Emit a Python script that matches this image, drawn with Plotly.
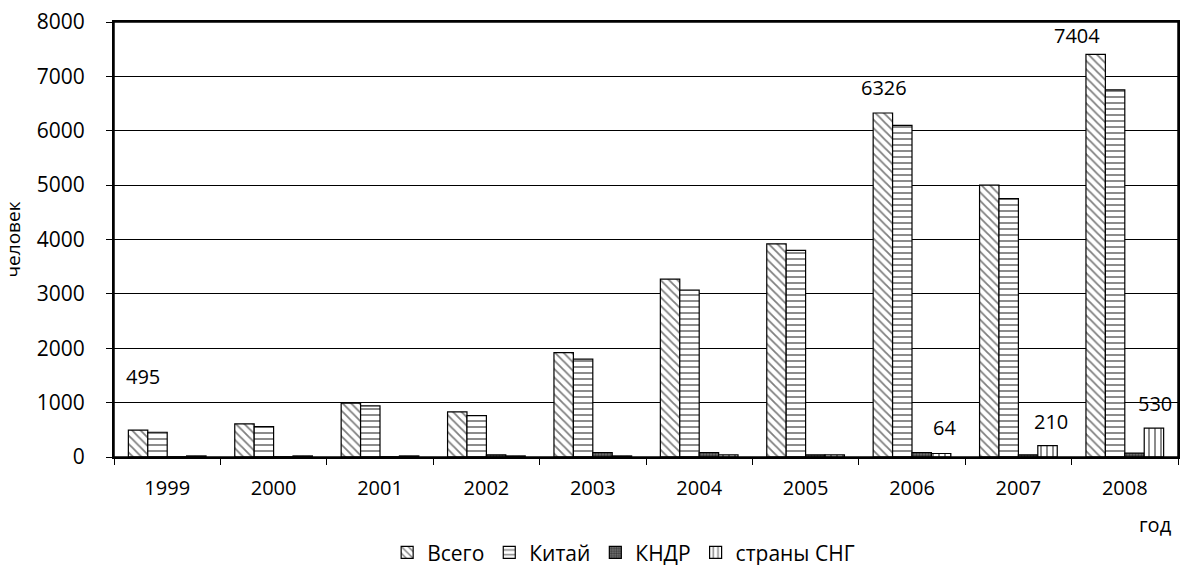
import plotly.graph_objects as go

years = ["1999", "2000", "2001", "2002", "2003", "2004", "2005", "2006", "2007", "2008"]
vsego = [495, 610, 990, 830, 1920, 3270, 3920, 6326, 5000, 7404]
kitai = [455, 560, 940, 760, 1800, 3070, 3800, 6100, 4750, 6750]
kndr = [5, 5, 5, 40, 80, 80, 40, 80, 40, 70]
sng = [20, 20, 20, 20, 20, 40, 40, 64, 210, 530]

series_names = ["Всего", "Китай", "КНДР", "страны СНГ"]

FONT = "Open Sans"

fig = go.Figure()
styles = [
    dict(shape="\\", fgcolor="black", bgcolor="white", size=6, solidity=0.3),
    dict(shape="-", fgcolor="black", bgcolor="white", size=6, solidity=0.3),
    dict(shape=".", fgcolor="black", bgcolor="#777777", size=3, solidity=0.5),
    dict(shape="|", fgcolor="black", bgcolor="white", size=6, solidity=0.3),
]
for name, vals, st in zip(series_names, [vsego, kitai, kndr, sng], styles):
    fig.add_trace(go.Bar(
        x=years, y=vals, name=name,
        marker=dict(color="white", line=dict(color="black", width=1.2), pattern=st),
    ))

# data labels (positions follow the bars via category index + pixel offset)
labels = [
    ("1999", vsego, -24, 54),
    ("2006", vsego, -28, 26),
    ("2008", vsego, -48, 19),
    ("2006", sng, 32, 26),
    ("2007", sng, 33, 24),
    ("2008", sng, 30, 25),
]
for yr, arr, xs, ys in labels:
    i = years.index(yr)
    fig.add_annotation(x=i, y=arr[i], text=str(arr[i]), showarrow=False, xshift=xs, yshift=ys,
                       xref="x", yref="y",
                       font=dict(family=FONT, size=20, color="black"))

fig.add_annotation(x=1.0, y=-0.156, xref="paper", yref="paper", text="год", showarrow=False,
                   xanchor="right", yanchor="middle", xshift=-4,
                   font=dict(family=FONT, size=20, color="black"))

# plot-area frame
fig.add_shape(type="rect", xref="paper", yref="paper", x0=0, x1=1, y0=0, y1=1,
              line=dict(color="black", width=1.5), fillcolor="rgba(0,0,0,0)", layer="above")

fig.update_layout(
    width=1182, height=565,
    margin=dict(l=114, r=4, t=22, b=108, autoexpand=False),
    paper_bgcolor="white", plot_bgcolor="white",
    barmode="group", bargap=0.27, bargroupgap=0,
    font=dict(family=FONT, size=20, color="black"),
    showlegend=True,
    legend=dict(orientation="h", x=0.479, xanchor="center", y=-0.22, yanchor="middle",
                font=dict(family=FONT, size=21, color="black"), itemwidth=30,
                traceorder="normal"),
    xaxis=dict(type="category", range=[-0.5, 9.5], showline=True, linecolor="black", linewidth=1.5,
               mirror=True, ticks="outside", tickson="boundaries", ticklen=6, tickcolor="black",
               ticklabelstandoff=12,
               tickfont=dict(family=FONT, size=20, color="black"), showgrid=False),
    yaxis=dict(range=[0, 8000], dtick=1000, showline=True, linecolor="black", linewidth=2, mirror=True,
               ticks="outside", ticklen=6, tickcolor="black", showgrid=True, gridcolor="black",
               gridwidth=1, zeroline=False, ticklabelstandoff=17,
               tickfont=dict(family=FONT, size=21, color="black"),
               title=dict(text="человек", font=dict(family=FONT, size=19, color="black"), standoff=11)),
)

fig.write_html("out.html", config={"displayModeBar": False},
               post_script="document.body.style.margin='0';document.body.style.overflow='hidden';")
